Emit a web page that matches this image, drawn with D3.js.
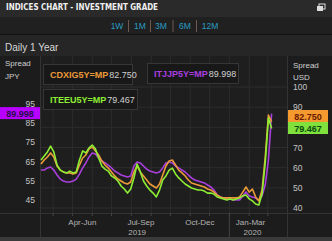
<!DOCTYPE html>
<html><head><meta charset="utf-8">
<script src="https://cdn.jsdelivr.net/npm/d3@7"></script>
<style>html,body{margin:0;padding:0;background:#1c1c1c;overflow:hidden}svg{display:block}</style>
</head><body><svg id="c" width="332" height="241"></svg>
<script>
// ---------- data ----------
const titleText = "INDICES CHART - INVESTMENT GRADE";
const subTitle = "Daily 1 Year";
const periodButtons = ["1W","1M","3M","6M","12M"];
const seriesNames = ["CDXIG5Y=MP","ITJJP5Y=MP","ITEEU5Y=MP"];
const lastValues = [82.750, 89.998, 79.467];
const startDate = "2019-03-13";
const stepDays = 5;
const cdxig = [61.8,63.8,65.3,67.3,65.3,60.8,58.8,57.9,57.4,57.4,
  56.9,57.4,61.3,64.8,66.3,69.3,70.2,68.3,66.3,63.3,
  61.3,59.8,57.9,55.9,54.4,53.4,52.4,51.9,52.9,57.9,
  60.8,57.9,55.9,53.9,51.9,50.9,49.9,51.9,56.4,60.8,
  63.3,63.8,61.3,58.8,57.4,55.9,53.9,52.4,51.9,51.4,
  50.9,50.4,49.4,48.9,47.9,46.4,45.5,45.0,45.0,45.0,
  45.0,45.0,45.5,47.9,50.4,47.9,49.4,45.5,43.5,48.9,
  65.3,86.1,82.75];
const itjjp = [60.6,60.6,61.7,62.2,60.6,58.0,55.9,54.9,54.4,54.4,
  54.9,55.9,58.5,61.7,64.3,67.4,69.5,69.0,66.9,65.3,
  64.3,63.2,61.7,60.1,59.1,58.0,57.5,57.0,57.5,62.7,
  64.8,64.3,62.7,61.1,60.1,59.6,59.1,59.6,61.7,64.3,
  64.8,64.3,62.7,61.7,60.6,59.6,58.0,56.5,55.4,54.9,
  54.4,53.9,52.8,51.8,50.2,47.6,46.6,46.0,45.5,45.5,
  45.0,45.0,45.0,47.1,49.2,47.1,46.6,46.0,45.0,47.1,
  52.8,65.8,89.998];
const iteeu = [63.8,65.8,67.8,70.7,67.8,61.3,58.8,57.9,57.4,58.3,
  57.4,57.9,63.8,68.3,67.3,69.8,71.2,69.3,64.8,60.8,
  59.3,58.3,55.9,54.9,53.4,50.9,49.4,47.4,49.4,54.9,
  61.8,57.9,53.4,50.9,48.9,47.4,45.5,48.9,53.9,55.9,
  58.8,59.8,56.9,54.9,53.4,51.9,50.9,49.9,49.4,48.9,
  48.9,48.4,47.4,47.4,46.9,45.5,45.0,44.5,44.0,44.5,
  44.0,44.5,45.0,46.0,46.4,44.5,43.5,42.0,41.5,46.9,
  62.3,84.6,79.467];
const leftTicks = [45,55,65,75,85,95];
const rightTicks = [40,50,60,70,80,90,100];
const quarterNames = ["Apr-Jun","Jul-Sep","Oct-Dec","Jan-Mar"];
const quarterStarts = ["2019-04-01","2019-07-01","2019-10-01","2020-01-01"];
const yearNames = ["2019","2020"];

// ---------- setup ----------
const svg = d3.select("#c");
const W = 332, H = 241;
const parse = d3.utcParse("%Y-%m-%d");
const t0 = parse(startDate);
const dates = cdxig.map((_, i) => d3.utcDay.offset(t0, i * stepDays));
const lastDate = dates[dates.length - 1];
const plot = {l: 40, r: 287, t: 56, b: 213};
const x = d3.scaleUtc().domain([t0, parse("2020-03-31")]).range([41, 287]);
const yR = d3.scaleLinear().domain([40, 100]).range([208, 87]);
const yL = d3.scaleLinear().domain([45, 95]).range([200, 104]);
const colors = {orange: "#eb9a3a", purple: "#a83fdc", green: "#8eee34"};
const font = "'Liberation Sans', Arial, sans-serif";
const narrow = "'Liberation Sans Narrow','DejaVu Sans Condensed','Liberation Sans',Arial,sans-serif";

// backgrounds
svg.append("rect").attr("width", W).attr("height", H).attr("fill", "#1c1c1c");
svg.append("rect").attr("width", W).attr("height", 17).attr("fill", "#2a2a2a");
svg.append("rect").attr("y", 17).attr("width", W).attr("height", 17).attr("fill", "#202020");
svg.append("line").attr("x1", 0).attr("x2", W).attr("y1", 34.5).attr("y2", 34.5).attr("stroke", "#111");
svg.append("rect").attr("y", 35).attr("width", W).attr("height", 21).attr("fill", "#262626");
svg.append("rect").attr("y", 237).attr("width", W).attr("height", 4).attr("fill", "#3a3a3a");

// title
svg.append("text").attr("x", 6).attr("y", 9.5).text(titleText)
  .attr("font-family", narrow).attr("font-weight", "bold").attr("font-size", 9.5)
  .attr("fill", "#f0f0f0").attr("textLength", 152).attr("lengthAdjust", "spacingAndGlyphs");
// icon
const ic = svg.append("g").attr("transform", "translate(317,4)");
ic.append("rect").attr("x", 2).attr("y", 0).attr("width", 6).attr("height", 5).attr("fill", "none").attr("stroke", "#ddd").attr("stroke-width", 1);
ic.append("rect").attr("x", 0).attr("y", 2).attr("width", 6).attr("height", 5).attr("fill", "#ddd");

// period buttons
const btnX = [117, 140, 161, 185, 210];
periodButtons.forEach((b, i) => {
  svg.append("text").attr("x", btnX[i]).attr("y", 29).attr("text-anchor", "middle")
    .attr("font-family", font).attr("font-size", 8.5).attr("fill", "#2a9cc4").text(b);
  if (i < periodButtons.length - 1) {
    const sx = (btnX[i] + btnX[i + 1]) / 2 + (i === 3 ? -1 : 0);
    svg.append("line").attr("x1", sx).attr("x2", sx).attr("y1", 20).attr("y2", 32)
      .attr("stroke", "#6e5a50").attr("stroke-width", 1);
  }
});
svg.append("text").attr("x", 5).attr("y", 51).text(subTitle)
  .attr("font-family", font).attr("font-size", 10).attr("fill", "#d8d8d8");

// plot frame
svg.append("rect").attr("x", plot.l).attr("y", plot.t).attr("width", plot.r - plot.l).attr("height", plot.b - plot.t)
  .attr("fill", "#1e1e1e");
const months = d3.utcMonth.range(d3.utcMonth.ceil(t0), parse("2020-04-01"));
svg.append("g").selectAll("line").data(months).join("line")
  .attr("x1", d => x(d)).attr("x2", d => x(d)).attr("y1", plot.t).attr("y2", plot.b)
  .attr("stroke", "#2c2c2c").attr("stroke-width", 1);
svg.append("g").selectAll("line").data(rightTicks).join("line")
  .attr("x1", plot.l).attr("x2", plot.r).attr("y1", d => yR(d)).attr("y2", d => yR(d))
  .attr("stroke", "#2c2c2c").attr("stroke-width", 1);
[plot.l, plot.r].forEach(px => svg.append("line").attr("x1", px + 0.5).attr("x2", px + 0.5)
  .attr("y1", plot.t).attr("y2", 237).attr("stroke", "#333"));
svg.append("line").attr("x1", 0).attr("x2", W).attr("y1", plot.b + 0.5).attr("y2", plot.b + 0.5).attr("stroke", "#333");

// month ticks on x axis
svg.append("g").selectAll("line").data(months).join("line")
  .attr("x1", d => x(d)).attr("x2", d => x(d)).attr("y1", plot.b).attr("y2", plot.b + 3)
  .attr("stroke", "#444");
const yearStart = parse("2020-01-01");
svg.append("line").attr("x1", x(yearStart)).attr("x2", x(yearStart)).attr("y1", plot.b).attr("y2", 237).attr("stroke", "#444");

// quarter labels centred on visible part of each quarter
quarterNames.forEach((q, i) => {
  const a = parse(quarterStarts[i]);
  const b = d3.min([d3.utcMonth.offset(a, 3), lastDate]);
  const cx = (x(a) + x(b)) / 2;
  svg.append("text").attr("x", cx).attr("y", 225).attr("text-anchor", "middle")
    .attr("font-family", font).attr("font-size", 8).attr("fill", "#b4b4b4").text(q);
});
const yearSpans = [[t0, yearStart], [yearStart, lastDate]];
yearNames.forEach((yn, i) => {
  const cx = (x(yearSpans[i][0]) + x(yearSpans[i][1])) / 2;
  svg.append("text").attr("x", cx + 2).attr("y", 235).attr("text-anchor", "middle")
    .attr("font-family", font).attr("font-size", 8).attr("fill", "#b4b4b4").text(yn);
});

// axis titles
[["Spread", 5, 66], ["JPY", 5, 79]].forEach(d => svg.append("text").attr("x", d[1]).attr("y", d[2])
  .attr("font-family", font).attr("font-size", 8).attr("fill", "#cfcfcf").text(d[0]));
[["Spread", 293, 68], ["USD", 293, 80]].forEach(d => svg.append("text").attr("x", d[1]).attr("y", d[2])
  .attr("font-family", font).attr("font-size", 8).attr("fill", "#cfcfcf").text(d[0]));

// value labels (positions)
const vl = [
  {v: lastValues[1], x: 0, w: 40, cy: yL(lastValues[1]) - 0.5, bg: "#b700ff", fg: "#28104a"},
  {v: lastValues[0], x: 288, w: 40, cy: 116, bg: "#f59a2e", fg: "#6a1a00"},
  {v: lastValues[2], x: 288, w: 40, cy: 128, bg: "#80e03c", fg: "#0a4a10"}
];
const rightValueYs = vl.filter(d => d.x > 100).map(d => d.cy);
const leftValueYs = vl.filter(d => d.x < 100).map(d => d.cy);

// axis numbers (those hidden behind a value label are not drawn)
svg.append("g").selectAll("text").data(leftTicks.filter(t => leftValueYs.every(c => Math.abs(yL(t) - c) > 8))).join("text")
  .attr("x", 35).attr("y", d => yL(d) + 3).attr("text-anchor", "end")
  .attr("font-family", font).attr("font-size", 8.5).attr("fill", "#c4c4c4").text(d => d);
svg.append("g").selectAll("text").data(rightTicks.filter(t => rightValueYs.every(c => Math.abs(yR(t) - c) > 8))).join("text")
  .attr("x", 293).attr("y", d => yR(d) + 3)
  .attr("font-family", font).attr("font-size", 8.5).attr("fill", "#c4c4c4").text(d => d);

// lines
const clip = svg.append("clipPath").attr("id", "pc").append("rect")
  .attr("x", plot.l).attr("y", plot.t).attr("width", plot.r - plot.l).attr("height", plot.b - plot.t);
const lineR = d3.line().x((d, i) => x(dates[i])).y(d => yR(d));
const lineL = d3.line().x((d, i) => x(dates[i])).y(d => yL(d));
const lg = svg.append("g").attr("clip-path", "url(#pc)").attr("fill", "none")
  .attr("stroke-width", 1.6).attr("stroke-linejoin", "round");
lg.append("path").attr("d", lineL(itjjp)).attr("stroke", colors.purple);
lg.append("path").attr("d", lineR(cdxig)).attr("stroke", colors.orange);
lg.append("path").attr("d", lineR(iteeu)).attr("stroke", colors.green);

// legend boxes
const legends = [
  {name: seriesNames[0], val: lastValues[0], c: colors.orange, x: 43, y: 64, w: 89},
  {name: seriesNames[1], val: lastValues[1], c: "#a93ee0", x: 147, y: 63, w: 91},
  {name: seriesNames[2], val: lastValues[2], c: colors.green, x: 43, y: 89, w: 94}
];
legends.forEach(l => {
  svg.append("rect").attr("x", l.x + 0.5).attr("y", l.y + 0.5).attr("width", l.w).attr("height", 20)
    .attr("fill", "#181818").attr("stroke", "#363636");
  const t = svg.append("text").attr("x", l.x + 7).attr("y", l.y + 13.5)
    .attr("font-family", font).attr("font-size", 9);
  t.append("tspan").attr("font-weight", "bold").attr("fill", l.c).text(l.name);
  t.append("tspan").attr("fill", "#d0d0d0").attr("dx", 1).text(d3.format(".3f")(l.val));
});

// value labels
vl.forEach(d => {
  svg.append("rect").attr("x", d.x).attr("y", d.cy - 6).attr("width", d.w).attr("height", 12).attr("fill", d.bg);
  svg.append("text").attr("x", d.x + d.w / 2).attr("y", d.cy + 3.5).attr("text-anchor", "middle")
    .attr("font-family", font).attr("font-weight", "bold").attr("font-size", 9).attr("fill", d.fg)
    .text(d3.format(".3f")(d.v));
});
</script></body></html>
